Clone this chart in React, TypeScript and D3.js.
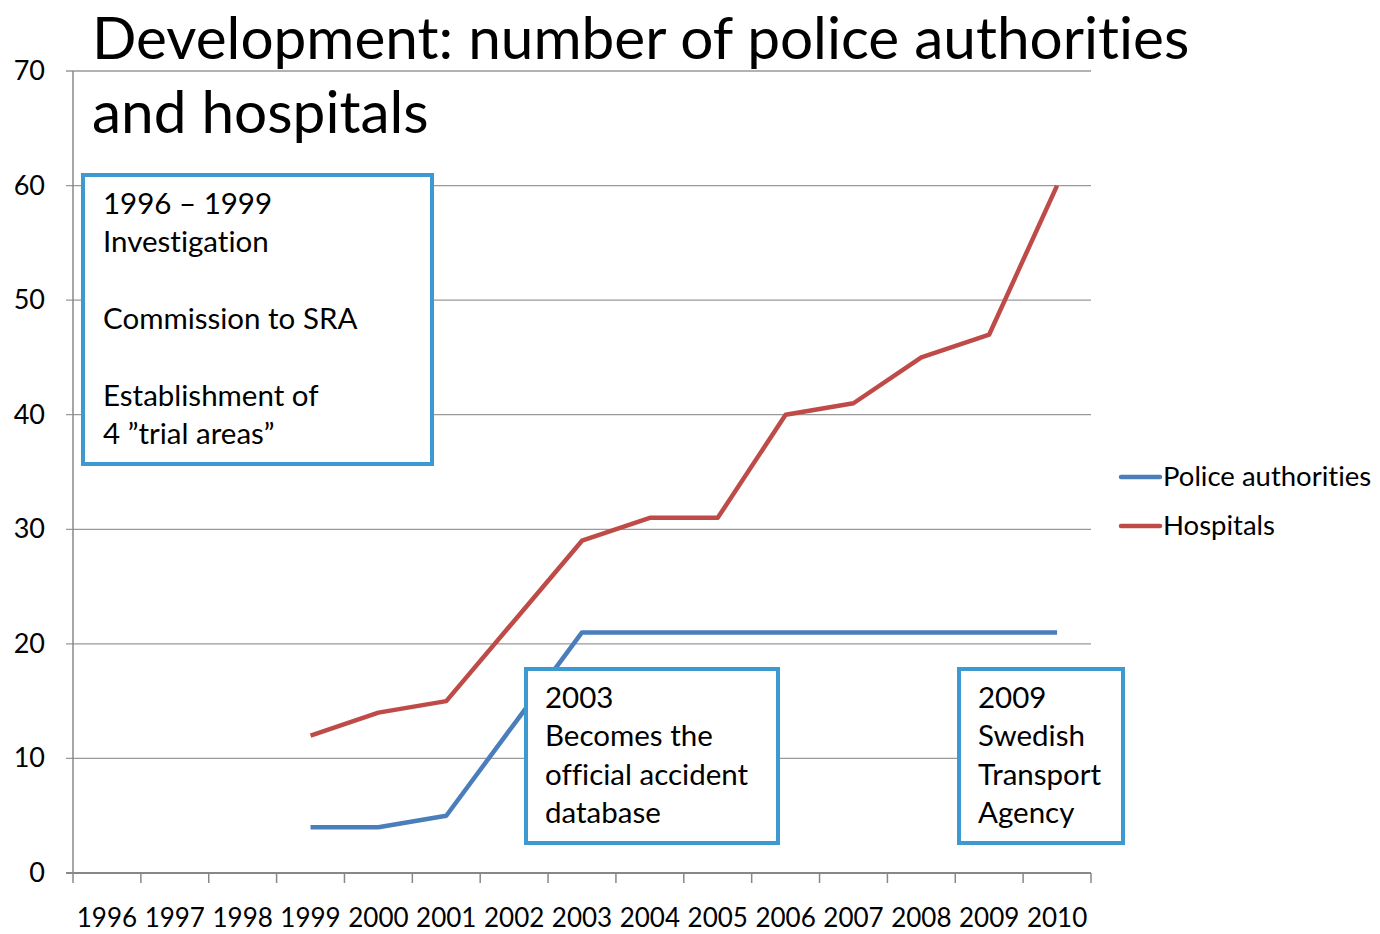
import React from "react";
import * as d3 from "d3";

const years = ["1996","1997","1998","1999","2000","2001","2002","2003","2004","2005","2006","2007","2008","2009","2010"];
const policeYears = ["1999","2000","2001","2002","2003","2004","2005","2006","2007","2008","2009","2010"];
const policeValues = [4,4,5,13,21,21,21,21,21,21,21,21];
const hospitalValues = [12,14,15,22,29,31,31,40,41,45,47,60];
const yTicks = [0,10,20,30,40,50,60,70];
const seriesNames = ["Police authorities","Hospitals"];
const seriesColors = ["#4a7ebb","#be4b48"];
const titleLines = ["Development: number of police authorities","and hospitals"];
const box1Lines = ["1996 – 1999","Investigation","","Commission to SRA","","Establishment of","4 ”trial areas”"];
const box2Lines = ["2003","Becomes the","official accident","database"];
const box3Lines = ["2009","Swedish","Transport","Agency"];

const FONT = "Lato, 'Open Sans', sans-serif";

export default function App() {
  const W = 1380, H = 934;
  const x0 = 73, x1 = 1091, yTop = 71, yBot = 873;
  const x = d3.scaleBand().domain(years).range([x0, x1]);
  const y = d3.scaleLinear().domain([0, 70]).range([yBot, yTop]);
  const cx = (d: string) => (x(d) as number) + x.bandwidth() / 2;
  const line = d3.line<[string, number]>().x(d => cx(d[0])).y(d => y(d[1]));
  const police = policeYears.map((d, i) => [d, policeValues[i]] as [string, number]);
  const hosp = policeYears.map((d, i) => [d, hospitalValues[i]] as [string, number]);
  const boundaries = d3.range(years.length + 1).map(i => x0 + i * x.bandwidth());
  const box = (bx: number, by: number, bw: number, bh: number, lines: string[], tx: number, ty: number) => (
    <g>
      <rect x={bx} y={by} width={bw} height={bh} fill="#fff" stroke="#3d9ad1" strokeWidth={4} />
      {lines.map((l, i) => (
        <text key={i} x={tx} y={ty + i * 38.3} fontSize={29.5} fill="#000">{l}</text>
      ))}
    </g>
  );
  return (
    <svg width={W} height={H} style={{ position: "absolute", left: 0, top: 0, background: "#fff", fontVariantLigatures: "none" }} fontFamily={FONT}>
      <rect x={0} y={0} width={W} height={H} fill="#fff" />
      {yTicks.map(t => (
        <g key={t}>
          <line x1={x0 - 7} x2={x1} y1={y(t)} y2={y(t)} stroke={t === 0 ? "#888" : "#999"} strokeWidth={t === 0 ? 2 : 1.3} />
          <text x={45} y={y(t) + 9} fontSize={27} textAnchor="end" fill="#000">{t}</text>
        </g>
      ))}
      <line x1={x0} x2={x0} y1={yTop} y2={yBot} stroke="#888" strokeWidth={1.5} />
      {boundaries.map((b, i) => (
        <line key={i} x1={b} x2={b} y1={yBot} y2={yBot + 10} stroke="#888" strokeWidth={1.5} />
      ))}
      {years.map(yr => (
        <text key={yr} x={cx(yr)} y={927} fontSize={26} textAnchor="middle" fill="#000">{yr}</text>
      ))}
      <path d={line(hosp) || ""} fill="none" stroke={seriesColors[1]} strokeWidth={4.5} strokeLinejoin="round" />
      <path d={line(police) || ""} fill="none" stroke={seriesColors[0]} strokeWidth={4.5} strokeLinejoin="round" />
      {titleLines.map((t, i) => (
        <text key={i} x={92} y={59 + i * 74} fontSize={58.5} fill="#000">{t}</text>
      ))}
      {box(83, 175, 349, 289, box1Lines, 103, 214)}
      {box(526, 669, 252, 174, box2Lines, 545, 708)}
      {box(959, 669, 164, 174, box3Lines, 978, 708)}
      {seriesNames.map((n, i) => (
        <g key={n}>
          <line x1={1121} x2={1160} y1={477 + i * 49} y2={477 + i * 49} stroke={seriesColors[i]} strokeWidth={4.5} strokeLinecap="round" />
          <text x={1163} y={486 + i * 49} fontSize={27.5} fill="#000">{n}</text>
        </g>
      ))}
    </svg>
  );
}
